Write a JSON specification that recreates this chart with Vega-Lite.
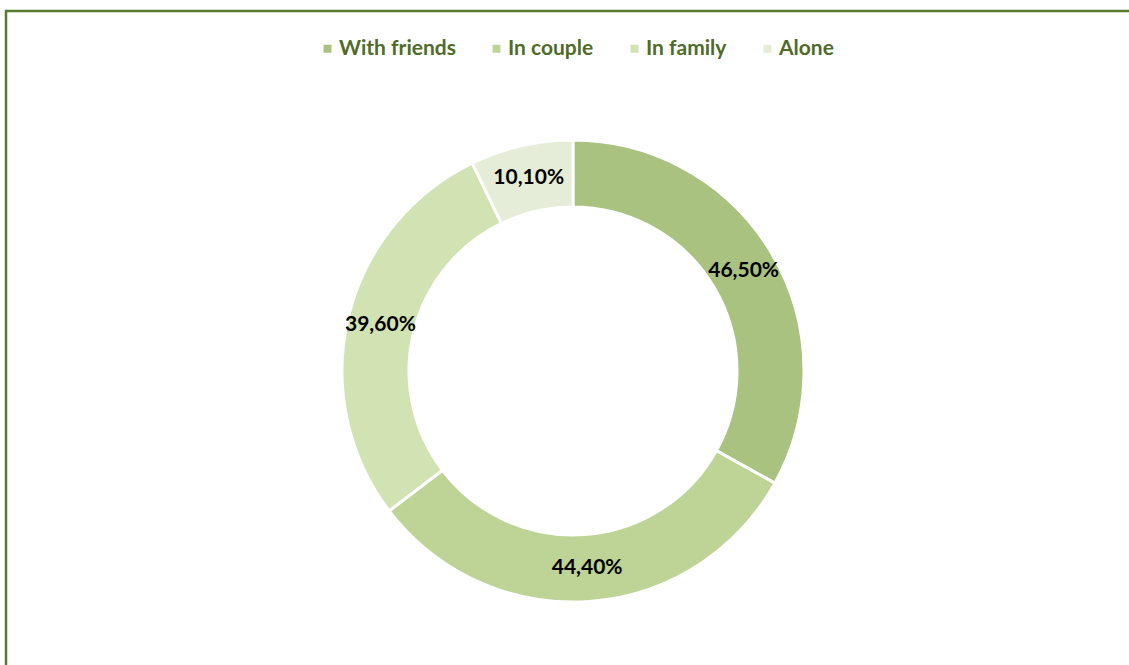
{
  "$schema": "https://vega.github.io/schema/vega-lite/v6.json",
  "width": 1134,
  "height": 720,
  "padding": {"left": 6, "top": 11, "right": 30, "bottom": 30},
  "autosize": {"type": "none"},
  "background": "white",
  "view": {"stroke": "#5b7a31", "strokeWidth": 2.5, "fill": "white"},
  "data": {
    "values": [
      {"group": "With friends", "value": 46.5, "label": "46,50%", "order": 1},
      {"group": "In couple", "value": 44.4, "label": "44,40%", "order": 2},
      {"group": "In family", "value": 39.6, "label": "39,60%", "order": 3},
      {"group": "Alone", "value": 10.1, "label": "10,10%", "order": 4}
    ]
  },
  "encoding": {
    "theta": {"field": "value", "type": "quantitative", "stack": true},
    "order": {"field": "order", "type": "quantitative"}
  },
  "layer": [
    {
      "mark": {"type": "arc", "outerRadius": 231, "innerRadius": 164, "stroke": "white", "strokeWidth": 3},
      "encoding": {
        "color": {
          "field": "group",
          "type": "nominal",
          "sort": ["With friends", "In couple", "In family", "Alone"],
          "scale": {
            "domain": ["With friends", "In couple", "In family", "Alone"],
            "range": ["#a9c280", "#bdd496", "#d1e2b3", "#e5edd8"]
          },
          "legend": {
            "orient": "none",
            "direction": "horizontal",
            "legendX": 311,
            "legendY": 27,
            "title": null,
            "symbolType": "square",
            "symbolSize": 64,
            "symbolStrokeWidth": 0,
            "labelFont": "Lato",
            "labelFontWeight": "bold",
            "labelFontSize": 21,
            "labelColor": "#4f6b28",
            "labelOffset": 1,
            "columnPadding": 30,
            "labelLimit": 300
          }
        }
      }
    },
    {
      "mark": {"type": "text", "radius": 198, "font": "Lato", "fontWeight": "bold", "fontSize": 21, "color": "black"},
      "encoding": {
        "text": {"field": "label", "type": "nominal"}
      }
    }
  ]
}
